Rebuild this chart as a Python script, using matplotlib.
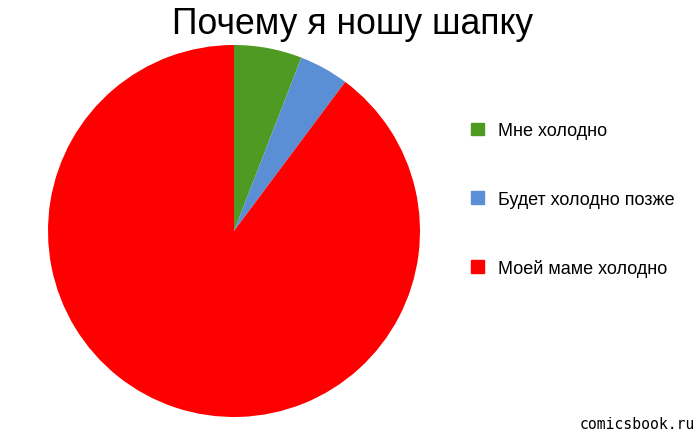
import matplotlib.pyplot as plt
from matplotlib.patches import Patch

title = 'Почему я ношу шапку'
labels = ['Мне холодно', 'Будет холодно позже', 'Моей маме холодно']
values = [5.9, 4.3, 89.8]
colors = ['#4f9a22', '#5b8fd5', '#fe0000']

plt.rcParams['font.family'] = ['Liberation Sans', 'DejaVu Sans']

fig = plt.figure(figsize=(7, 4.35), dpi=100)
ax = fig.add_axes([48 / 700, 17 / 435, 372 / 700, 372 / 435])
ax.pie(values, colors=colors, startangle=90, counterclock=False,
       wedgeprops={'linewidth': 0})
ax.set_xlim(-1, 1)
ax.set_ylim(-1, 1)
ax.set_aspect('equal')

fig.text(353 / 700, 1 - 25 / 435, title, ha='center', va='center', fontsize=25.6)

handles = [Patch(color=c) for c in colors]
fig.legend(handles, labels, loc='upper left', bbox_to_anchor=(455 / 700, 1 - 107 / 435),
           frameon=False, fontsize=13, handlelength=0.72, handleheight=0.72,
           labelspacing=2.85, handletextpad=0.75)

fig.text(695 / 700, 1 - 425 / 435, 'comicsbook.ru', ha='right', va='center',
         fontsize=10.6, family='DejaVu Sans Mono')

fig.savefig('out.png')
